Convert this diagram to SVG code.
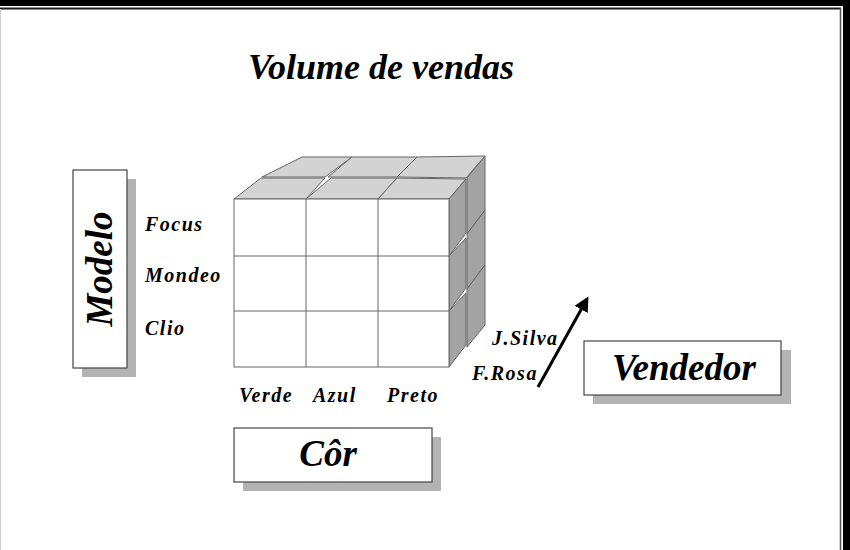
<svg xmlns="http://www.w3.org/2000/svg" width="850" height="550" viewBox="0 0 850 550">
<style>
.t{font-family:"Liberation Serif","Times New Roman",serif;font-weight:bold;font-style:italic;fill:#000}
.lbl{font-size:20px;letter-spacing:1.5px}
.big{font-size:37px}
.box{fill:#fff;stroke:#444;stroke-width:1.2}
.sh{fill:#b3b3b3}
.fr{fill:#fff;stroke:#666;stroke-width:1}
.tp{fill:#d3d3d3;stroke:#666;stroke-width:1;stroke-linejoin:round}
.sd{fill:#a3a3a3;stroke:#666;stroke-width:1;stroke-linejoin:round}
</style>
<defs>
<marker id="ah" viewBox="0 0 10 10" refX="8" refY="5" markerWidth="5" markerHeight="5" orient="auto">
<path d="M0,0 L10,5 L0,10 z" fill="#000"/>
</marker>
</defs>
<rect width="850" height="550" fill="#fff"/>
<g id="frame">
<rect x="0" y="0" width="850" height="6" fill="#000"/>
<rect x="843" y="0" width="7" height="550" fill="#000"/>
<line x1="0" y1="8.5" x2="841" y2="8.5" stroke="#1a1a1a" stroke-width="2"/>
<line x1="840.5" y1="8" x2="840.5" y2="550" stroke="#555" stroke-width="1.5"/>
<line x1="0.5" y1="9" x2="0.5" y2="550" stroke="#ccc" stroke-width="1"/>
</g>
<text id="title" class="t" x="381" y="79" font-size="36" text-anchor="middle">Volume de vendas</text>
<g id="cube">
<g id="cube-top">
<polygon class="tp" points="262,177 325,177 352,157 302,157"/>
<polygon class="tp" points="328,177 397,177 417,157 352,157"/>
<polygon class="tp" points="397,177 466,178 485,156 417,157"/>
<polygon class="tp" points="234,199 306,199 325,178 261,178"/>
<polygon class="tp" points="306,199 378,199 397,178 331,178"/>
<polygon class="tp" points="378,199 449,199 466,179 397,178"/>
</g>
<g id="cube-side">
<polygon class="sd" points="467,178 485,156 485,210 467,234"/>
<polygon class="sd" points="467,234 485,210 485,265 467,289"/>
<polygon class="sd" points="467,289 485,265 485,325 467,347"/>
<polygon class="sd" points="449,199 466,179 466,233 449,256"/>
<polygon class="sd" points="449,256 466,238 466,288 449,311"/>
<polygon class="sd" points="449,311 466,293 466,345 449,367"/>
</g>
<g id="cube-front">
<rect class="fr" x="234" y="199" width="215" height="168"/>
<line x1="306" y1="199" x2="306" y2="367" stroke="#666"/>
<line x1="378" y1="199" x2="378" y2="367" stroke="#666"/>
<line x1="234" y1="256" x2="449" y2="256" stroke="#666"/>
<line x1="234" y1="311" x2="449" y2="311" stroke="#666"/>
</g>
</g>
<g id="modelo">
<rect class="sh" x="82" y="179" width="54" height="198"/>
<rect class="box" x="73" y="170" width="54" height="198"/>
<text class="t big" transform="translate(112,269) rotate(-90)" text-anchor="middle">Modelo</text>
</g>
<g id="modelo-values">
<text class="t lbl" x="145" y="231">Focus</text>
<text class="t lbl" x="145" y="282">Mondeo</text>
<text class="t lbl" x="145" y="335">Clio</text>
</g>
<g id="cor-values">
<text class="t lbl" x="239" y="402">Verde</text>
<text class="t lbl" x="313" y="402">Azul</text>
<text class="t lbl" x="387" y="402">Preto</text>
</g>
<g id="cor">
<rect class="sh" x="243" y="437" width="198" height="54"/>
<rect class="box" x="234" y="428" width="198" height="54"/>
<text class="t big" x="328" y="466" text-anchor="middle">Côr</text>
</g>
<g id="vendedor-values">
<text class="t lbl" x="492" y="345">J.Silva</text>
<text class="t lbl" x="472" y="380">F.Rosa</text>
</g>
<g id="vendedor">
<rect class="sh" x="593" y="350" width="198" height="54"/>
<rect class="box" x="584" y="341" width="197" height="54"/>
<text class="t big" x="684" y="380" text-anchor="middle">Vendedor</text>
</g>
<g id="connectors">
<line x1="538" y1="387" x2="587" y2="299" stroke="#000" stroke-width="3" marker-end="url(#ah)"/>
</g>
</svg>
